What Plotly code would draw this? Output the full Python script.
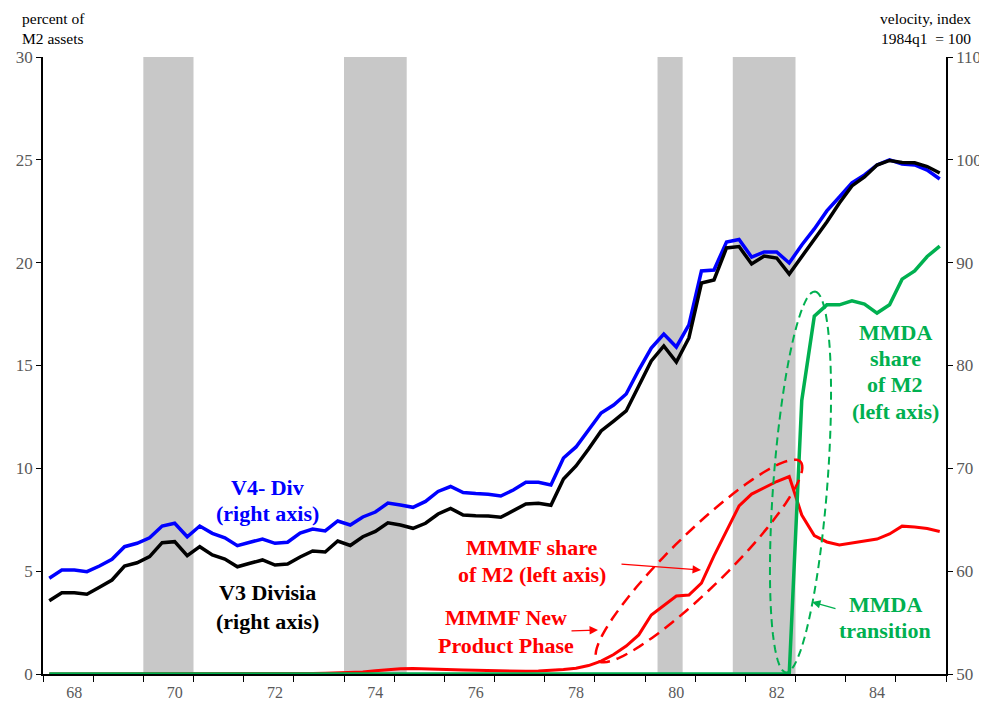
import math
import plotly.graph_objects as go

# ---------------- data ----------------
start_year, start_q, n_q = 1967, 3, 72
quarters = []
for i in range(n_q):
    k = start_q - 1 + i
    quarters.append(f"{start_year + k // 4}q{k % 4 + 1}")

v4_div = [59.31, 60.11, 60.11, 59.95, 60.50, 61.15, 62.38, 62.71, 63.25, 64.39,
          64.66, 63.35, 64.39, 63.68, 63.25, 62.48, 62.81, 63.13, 62.71, 62.81,
          63.71, 64.10, 63.91, 64.88, 64.49, 65.27, 65.75, 66.63, 66.43, 66.21,
          66.78, 67.75, 68.23, 67.65, 67.55, 67.48, 67.31, 67.89, 68.64, 68.64,
          68.38, 71.01, 72.08, 73.73, 75.38, 76.16, 77.23, 79.56, 81.70, 83.06,
          81.80, 83.94, 89.19, 89.29, 92.01, 92.25, 90.55, 91.04, 91.04, 89.97,
          91.72, 93.28, 95.03, 96.39, 97.75, 98.53, 99.50, 99.99, 99.60, 99.50,
          99.01, 98.14]

v3_divisia = [57.13, 57.91, 57.91, 57.75, 58.43, 59.14, 60.50, 60.82, 61.41, 62.77,
              62.87, 61.50, 62.38, 61.57, 61.18, 60.43, 60.77, 61.09, 60.60, 60.70,
              61.38, 61.96, 61.86, 62.93, 62.50, 63.35, 63.86, 64.71, 64.49, 64.17,
              64.66, 65.56, 66.11, 65.46, 65.39, 65.37, 65.24, 65.85, 66.53, 66.60,
              66.41, 68.96, 70.23, 71.88, 73.63, 74.60, 75.58, 78.01, 80.44, 81.90,
              80.34, 82.68, 88.02, 88.32, 91.43, 91.57, 89.87, 90.65, 90.45, 88.90,
              90.55, 92.21, 93.96, 95.80, 97.46, 98.33, 99.50, 99.94, 99.74, 99.72,
              99.35, 98.72]

mmmf_share = [0, 0, 0, 0, 0, 0, 0, 0, 0, 0,
              0, 0, 0, 0, 0, 0, 0, 0, 0, 0,
              0.02, 0.03, 0.04, 0.05, 0.07, 0.10, 0.16, 0.22, 0.25, 0.27,
              0.26, 0.24, 0.22, 0.20, 0.18, 0.16, 0.15, 0.14, 0.13, 0.14,
              0.17, 0.22, 0.28, 0.41, 0.63, 0.95, 1.36, 1.90, 2.87, 3.31,
              3.79, 3.84, 4.42, 5.74, 6.93, 8.17, 8.75, 9.04, 9.36, 9.60,
              7.73, 6.73, 6.42, 6.27, 6.37, 6.46, 6.56, 6.81, 7.19, 7.15,
              7.07, 6.93]

mmda_share = [0] * 60 + [13.3, 17.4, 17.95, 17.95, 18.14, 17.99, 17.55, 17.95,
                         19.2, 19.6, 20.3, 20.8]

recession_start = ["1969q3", "1973q3", "1979q4", "1981q2"]
recession_end = ["1970q2", "1974q3", "1980q1", "1982q2"]

xtick_years = [1968, 1970, 1972, 1974, 1976, 1978, 1980, 1982, 1984]
xtick_labels = ["68", "70", "72", "74", "76", "78", "80", "82", "84"]


def q2x(q):
    y, qq = q.split("q")
    return int(y) + (int(qq) - 1) / 4


x = [q2x(q) for q in quarters]
x_lo, x_hi = x[0] - 0.125, x[-1] + 0.125

# ---------------- styling ----------------
SERIF = "Liberation Serif, Times New Roman, serif"
GRAY = "#595959"
BLUE, BLACK, RED, GREEN = "#0000ff", "#000000", "#ff0000", "#00b050"
OFF = 8                      # page body margin
W, H = 987 - OFF, 702 - OFF
ML, MR, MT, MB = 35, 41, 49, 28
PW, PH = W - ML - MR, H - MT - MB
SX0, SY1 = ML + OFF, H - MB + OFF   # screen coords of plot left / bottom


def pxx(px):
    return (px - SX0) / PW


def pxy(py):
    return (SY1 - py) / PH


def px2data(px, py):
    return x_lo + pxx(px) * (x_hi - x_lo), pxy(py) * 30


def ellipse_path(cx, cy, a, b, ang_deg, n=90):
    th = math.radians(ang_deg)
    pts = []
    for k in range(n + 1):
        t = 2 * math.pi * k / n
        px = cx + a * math.cos(t) * math.cos(th) - b * math.sin(t) * math.sin(th)
        py = cy + a * math.cos(t) * math.sin(th) + b * math.sin(t) * math.cos(th)
        dx, dy = px2data(px, py)
        pts.append(f"{dx:.4f},{dy:.4f}")
    return "M " + " L ".join(pts) + " Z"


fig = go.Figure()
fig.add_trace(go.Scatter(x=x, y=v4_div, yaxis="y2", mode="lines",
                         line=dict(color=BLUE, width=3.5), name="V4- Div"))
fig.add_trace(go.Scatter(x=x, y=v3_divisia, yaxis="y2", mode="lines",
                         line=dict(color=BLACK, width=3.5), name="V3 Divisia"))
fig.add_trace(go.Scatter(x=x, y=mmmf_share, mode="lines",
                         line=dict(color=RED, width=3), name="MMMF share"))
fig.add_trace(go.Scatter(x=x, y=mmda_share, mode="lines",
                         line=dict(color=GREEN, width=3.5), name="MMDA share"))

shapes = []
for s, e in zip(recession_start, recession_end):
    shapes.append(dict(type="rect", xref="x", yref="paper",
                       x0=q2x(s) - 0.125, x1=q2x(e) + 0.125, y0=0, y1=1,
                       fillcolor="#c8c8c8", line=dict(width=0), layer="below"))
shapes.append(dict(type="path", xref="x", yref="y",
                   path=ellipse_path(699, 561, 142, 28, -44.4),
                   line=dict(color=RED, width=2.5, dash="12px,7px")))
shapes.append(dict(type="path", xref="x", yref="y",
                   path=ellipse_path(800.5, 482, 191, 27, -85.66),
                   line=dict(color=GREEN, width=2, dash="8px,5px")))

ann = []


def text(px, py_list, lines, color, size=22):
    for py, t in zip(py_list, lines):
        ann.append(dict(x=pxx(px), y=pxy(py), xref="paper", yref="paper",
                        text=f"<b>{t}</b>", showarrow=False,
                        font=dict(family=SERIF, size=size, color=color),
                        xanchor="center", yanchor="middle", align="center"))


text(267, [487, 514], ["V4- Div", "(right axis)"], BLUE)
text(267, [592, 621], ["V3 Divisia", "(right axis)"], BLACK)
text(532, [547, 574], ["MMMF share", "of M2 (left axis)"], RED)
text(506, [617, 645], ["MMMF New", "Product Phase"], RED)
text(895, [332, 358, 384, 411], ["MMDA", "share", "of M2", "(left axis)"], GREEN)
text(885, [604, 630], ["MMDA", "transition"], GREEN)


def arrow(hx, hy, tx, ty, color):
    ann.append(dict(x=pxx(hx), y=pxy(hy), xref="paper", yref="paper",
                    ax=tx - hx, ay=ty - hy, axref="pixel", ayref="pixel",
                    text="", showarrow=True, arrowhead=2, arrowsize=1.3,
                    arrowwidth=1.3, arrowcolor=color, standoff=0, startstandoff=0))


arrow(701, 570, 620, 564, RED)
arrow(598, 630, 570, 631, RED)
arrow(812, 602, 837, 609, GREEN)

ann.append(dict(x=pxx(20), y=pxy(8), xref="paper", yref="paper",
                text="percent of<br>M2 assets", showarrow=False, align="left",
                xanchor="left", yanchor="top",
                font=dict(family=SERIF, size=15.5, color="#000000")))
ann.append(dict(x=pxx(973), y=pxy(8), xref="paper", yref="paper",
                text="velocity, index<br>1984q1  = 100", showarrow=False, align="right",
                xanchor="right", yanchor="top",
                font=dict(family=SERIF, size=15.5, color="#000000")))

fig.update_layout(
    width=W, height=H,
    margin=dict(l=ML, r=MR, t=MT, b=MB, pad=0, autoexpand=False),
    plot_bgcolor="white", paper_bgcolor="white",
    showlegend=False,
    shapes=shapes, annotations=ann,
    xaxis=dict(range=[x_lo, x_hi], tickmode="array", tickvals=xtick_years,
               ticktext=xtick_labels, ticks="", showgrid=False, zeroline=False,
               automargin=False,
               showline=True, linecolor="black", linewidth=1.5,
               tickfont=dict(family=SERIF, size=16, color=GRAY),
               ticklabelstandoff=3,
               minor=dict(tickmode="array",
                          tickvals=[x_lo + k for k in range(19)],
                          ticks="outside", ticklen=6, tickcolor="black",
                          tickwidth=1.2, showgrid=False)),
    yaxis=dict(range=[0, 30], tickvals=[0, 5, 10, 15, 20, 25, 30],
               ticks="outside", ticklen=5, tickcolor="black", tickwidth=1.2,
               automargin=False,
               showline=True, linecolor="black", linewidth=1.5,
               showgrid=False, zeroline=False,
               tickfont=dict(family=SERIF, size=17, color=GRAY)),
    yaxis2=dict(range=[50, 110], tickvals=[50, 60, 70, 80, 90, 100, 110],
                overlaying="y", side="right",
                ticks="outside", ticklen=5, tickcolor="black", tickwidth=1.2,
                automargin=False,
                showline=True, linecolor="black", linewidth=1.5,
                showgrid=False, zeroline=False,
                tickfont=dict(family=SERIF, size=17, color=GRAY)),
)

fig.write_html("out.html")
